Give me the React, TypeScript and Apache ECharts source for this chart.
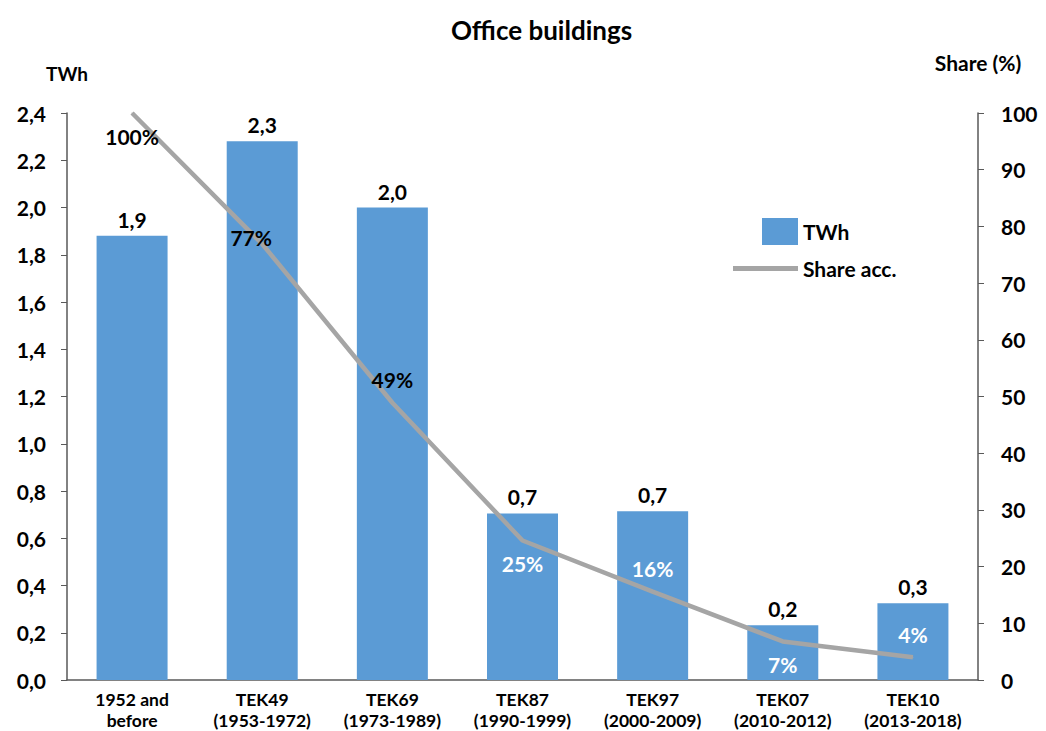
import React, { useEffect, useRef } from "react";
import * as echarts from "echarts";

const categories = [
  "1952 and\nbefore",
  "TEK49\n(1953-1972)",
  "TEK69\n(1973-1989)",
  "TEK87\n(1990-1999)",
  "TEK97\n(2000-2009)",
  "TEK07\n(2010-2012)",
  "TEK10\n(2013-2018)",
];
const twhValues = [1.88, 2.28, 2.0, 0.705, 0.714, 0.232, 0.325];
const shareAcc = [100, 76.9, 48.9, 24.6, 15.6, 6.8, 4.0];
const shareLabelPos = ["bottom", "inside", "top", "bottom", "top", "bottom", "top"];
const shareLabelDark = [true, true, true, false, false, false, false];

const FONT = "Lato, 'Open Sans', sans-serif";

export default function App() {
  const ref = useRef<HTMLDivElement>(null);
  useEffect(() => {
    if (!ref.current) return;
    const chart = echarts.init(ref.current, null, { renderer: "svg" });
    const axisColor = "#595959";
    chart.setOption({
      animation: false,
      textStyle: { fontFamily: FONT },
      title: {
        text: "Office buildings",
        left: 446,
        top: 12,
        textStyle: { fontFamily: FONT, fontSize: 26, fontWeight: "bold", color: "#000" },
      },
      legend: [
        {
          data: [{ name: "TWh", icon: "rect" }],
          left: 757,
          top: 213,
          itemWidth: 36,
          itemHeight: 27,
          itemGap: 10,
          textStyle: { fontFamily: FONT, fontSize: 21, fontWeight: "bold", color: "#000" },
        },
        {
          data: [{ name: "Share acc.", icon: "rect", itemStyle: { color: "#A5A5A5", opacity: 1 } }],
          left: 728,
          top: 253,
          itemWidth: 65,
          itemHeight: 5,
          itemGap: 10,
          textStyle: { fontFamily: FONT, fontSize: 21, fontWeight: "bold", color: "#000" },
        },
      ],
      grid: { left: 67, right: 68, top: 113, bottom: 50, containLabel: false },
      xAxis: {
        type: "category",
        data: categories,
        axisLine: { lineStyle: { color: axisColor, width: 1.5 } },
        axisTick: { show: false },
        axisLabel: {
          interval: 0,
          margin: 9,
          color: "#000",
          fontFamily: FONT,
          fontSize: 17.5,
          fontWeight: "bold",
          lineHeight: 21,
        },
      },
      yAxis: [
        {
          type: "value",
          min: 0,
          max: 2.4,
          interval: 0.2,
          name: "TWh",
          nameLocation: "end",
          nameGap: 30,
          nameTextStyle: { fontFamily: FONT, fontSize: 19, fontWeight: "bold", color: "#000", align: "center" },
          splitLine: { show: false },
          axisLine: { show: true, lineStyle: { color: axisColor, width: 1.5 } },
          axisTick: { show: true, length: 6, lineStyle: { color: axisColor } },
          axisLabel: {
            margin: 21,
            color: "#000",
            fontFamily: FONT,
            fontSize: 21,
            fontWeight: "bold",
            formatter: (v: number) => v.toFixed(1).replace(".", ","),
          },
        },
        {
          type: "value",
          min: 0,
          max: 100,
          interval: 10,
          name: "Share (%)",
          nameLocation: "end",
          nameGap: 40,
          nameTextStyle: { fontFamily: FONT, fontSize: 21, fontWeight: "bold", color: "#000", align: "center" },
          splitLine: { show: false },
          axisLine: { show: true, lineStyle: { color: axisColor, width: 1.5 } },
          axisTick: { show: true, length: 6, lineStyle: { color: axisColor } },
          axisLabel: {
            margin: 23,
            color: "#000",
            fontFamily: FONT,
            fontSize: 21,
            fontWeight: "bold",
          },
        },
      ],
      series: [
        {
          name: "TWh",
          type: "bar",
          data: twhValues,
          barWidth: 71,
          itemStyle: { color: "#5B9BD5" },
          label: {
            show: true,
            position: "top",
            distance: 6,
            color: "#000",
            fontFamily: FONT,
            fontSize: 21,
            fontWeight: "bold",
            formatter: (p: any) => p.value.toFixed(1).replace(".", ","),
          },
        },
        {
          name: "Share acc.",
          type: "line",
          yAxisIndex: 1,
          showSymbol: true,
          symbol: "circle",
          symbolSize: 1,
          lineStyle: { color: "#A5A5A5", width: 4.5 },
          itemStyle: { color: "#A5A5A5" },
          z: 5,
          data: shareAcc.map((v, i) => ({
            value: v,
            label: {
              show: true,
              position: shareLabelPos[i],
              distance: 12,
              offset: i === 1 ? [-11, -6] : [0, 0],
              color: shareLabelDark[i] ? "#000" : "#fff",
            },
          })),
          label: {
            show: true,
            fontFamily: FONT,
            fontSize: 21,
            fontWeight: "bold",
            formatter: (p: any) => Math.round(p.value) + "%",
          },
        },
      ],
    });
    return () => chart.dispose();
  }, []);
  return (
    <div
      ref={ref}
      style={{ position: "absolute", left: 0, top: 0, width: 1046, height: 731 }}
    />
  );
}
